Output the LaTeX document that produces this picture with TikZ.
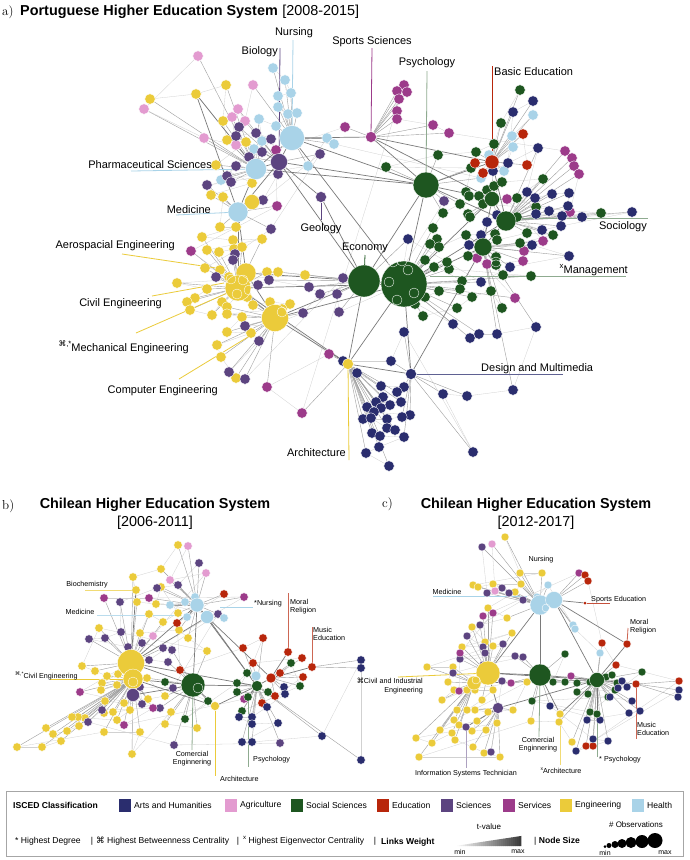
\documentclass[tikz,border=0pt]{standalone}
\usepackage{fontspec}
\setmainfont{Liberation Sans}
\newfontfamily\serifA{Latin Modern Roman}
\newfontfamily\symf{DejaVu Sans}
\pgfdeclarelayer{bgl}
\pgfdeclarelayer{edges}
\pgfdeclarelayer{front}
\pgfsetlayers{bgl,edges,main,front}
\definecolor{cArt}{HTML}{2A2D6E}
\definecolor{cAgr}{HTML}{E39BD0}
\definecolor{cSoc}{HTML}{1E5620}
\definecolor{cEdu}{HTML}{B8260B}
\definecolor{cSci}{HTML}{5C4480}
\definecolor{cSer}{HTML}{9C3B8A}
\definecolor{cEng}{HTML}{EBCB3A}
\definecolor{cHea}{HTML}{A9D3E8}
\colorlet{lSoc}{cSoc!50}
\tikzset{
 nd/.style={circle,inner sep=0pt,minimum size=#1,draw=white,line width=0.35pt},
 fArt/.style={fill=cArt}, fAgr/.style={fill=cAgr}, fSoc/.style={fill=cSoc},
 fEdu/.style={fill=cEdu}, fSci/.style={fill=cSci}, fSer/.style={fill=cSer},
 fEng/.style={fill=cEng}, fHea/.style={fill=cHea},
 hedge/.style={draw=black!38,line width=0.4pt},
 ledge/.style={draw=black!18,line width=0.3pt},
 xedge/.style={draw=black!52,line width=0.7pt},
 lab/.style={line width=0.8pt},
 lbl/.style={font=\fontsize{11}{12}\selectfont,inner sep=0pt},
 sl/.style={font=\fontsize{7.2}{8.2}\selectfont,inner sep=0pt},
 lg/.style={font=\fontsize{8.6}{10}\selectfont,inner sep=0pt},
 lgs/.style={font=\fontsize{7}{8}\selectfont,inner sep=0pt},
 sw/.style={rectangle,inner sep=0pt,minimum width=12,minimum height=13},
}
\newcommand\mkcl[4]{%
 \foreach \x/\y/\h [count=\i] in #4 {\node[nd=#3,#2] (#1\i) at (\x,\y) {};}}
\newcommand\mked[2]{%
 \foreach \x/\y/\h [count=\i] in #2 {%
   \draw[hedge] (#1\i) -- (\h);
   \ifnum\i>1 \pgfmathtruncatemacro\j{\i-1}\draw[ledge] (#1\i) -- (#1\j);\fi}}
\newcommand\supx[1]{\raisebox{0.45em}{\scalebox{0.7}{#1}}}
% ---- node lists
\def\LaH{273/68/aNur,285/80/aNur,291/93/aNur,278/96/aNur,278/107/aNur,288/114/aNur,297/113/aNur,276/126/aNur,259/119/aPha,262/141/aPha,254/149/aPha,221/180/aPha,308/166/aNur,327/138/aNur,334/144/aNur,481/178/aPsy,489/155/aBas,504/171/aBas,513/147/aBas,512/136/aBas,533/115/aBas}
\def\LaA{198/56/aPha,144/109/aPha,204/138/aPha,236/145/aPha,232/117/aPha,238/109/aBio,245/121/aBio,253/85/aNur}
\def\LaY{150/99/aPha,196/94/aPha,226/85/aPha,223/121/aPha,227/140/aPha,246/142/aBio,216/165/aPha,252/183/aPha,211/195/aMed,223/197/aMed,220/227/aMed,236/227/aMed,202/237/aCiv,233/240/aCiv,262/239/aCiv,207/250/aCiv,219/252/aCiv,234/249/aCiv,242/247/aCiv,205/268/aCiv,220/270/aCiv,229/277/aCiv,267/272/aCiv,278/272/aEco,305/275/aEco,177/283/aCiv,207/289/aCiv,195/298/aCiv,187/302/aCiv,190/310/aCiv,212/315/aCiv,222/302/aCiv,227/307/aMec,237/295/aCiv,247/297/aMec,253/305/aMec,270/302/aMec,290/304/aMec,282/309/aMec,227/314/aMec,242/317/aMec,227/332/aMec,251/333/aMec,217/345/aMec,221/357/aMec,236/378/aMec}
\def\LaP{239/127/aBio,236/136/aBio,256/133/aBio,271/139/aBio,262/152/aBio,249/157/aBio,236/166/aPha,227/176/aPha,231/182/aPha,207/185/aMed,278/174/aBio,263/200/aMed,320/154/aBio,271/229/aMed,235/254/aCiv,233/260/aCiv,216/277/aCiv,258/285/aCiv,269/280/aEco,309/287/aEco,320/294/aEco,303/313/aMec,272/325/aMec,245/326/aMec,259/341/aMec,229/372/aMec,245/379/aMec,343/278/aEco,337/294/aEco,339/312/aEco,389/290/aMan,444/201/aPsy}
\def\LaM{345/127/aSpo,276/150/aBio,277/206/aMed,191/251/aCiv,329/354/aArc,267/387/aMec,302/413/aArc,404/85/aSpo,397/91/aSpo,407/92/aSpo,399/99/aSpo,397/111/aSpo,397/119/aSpo,433/125/aSpo,449/133/aSpo,565/151/aSoc,572/158/aSoc,574/166/aSoc,579/174/aSoc,570/212/aSoc,507/199/aG3,543/241/aG2,524/251/aG2,523/261/aG2,487/264/aG2,477/258/aG2,515/298/aMan}
\def\LaS{520/90/aBas,501/123/aBas,494/144/aBas,476/152/aBas,438/155/aPsy,386/167/aPsy,471/168/aPsy,466/192/aG3,469/196/aG3,479/196/aG3,487/190/aG3,494/186/aG3,502/182/aG3,543/179/aSoc,517/198/aSoc,536/207/aSoc,517/217/aSoc,601/213/aSoc,483/204/aG3,468/214/aG3,470/217/aG3,460/204/aPsy,443/213/aPsy,433/228/aMan,437/239/aMan,430/244/aMan,439/247/aMan,466/235/aG2,495/234/aG2,497/240/aG2,527/233/aSoc,553/235/aSoc,520/243/aG2,468/256/aG2,496/257/aG2,496/265/aG2,503/275/aG2,531/276/aMan,449/269/aMan,447/262/aMan,434/267/aMan,425/260/aMan,462/281/aMan,460/289/aMan,439/291/aMan,425/297/aMan,415/304/aMan,423/316/aMan,457/308/aMan,472/297/aMan,491/291/aG2,502/308/aG2}
\def\LaR{475/163/aBas,483/173/aBas,523/134/aBas,527/165/aBas}
\def\LaN{533/101/aBas,513/112/aBas,508/163/aBas,493/171/aG3,538/148/aSoc,527/192/aSoc,535/198/aSoc,552/194/aSoc,569/193/aSoc,568/206/aSoc,549/211/aSoc,536/214/aSoc,562/216/aSoc,582/217/aSoc,632/212/aSoc,561/226/aSoc,542/230/aSoc,497/215/aG3,487/222/aG2,481/235/aG2,469/245/aG2,532/245/aG2,569/256/aG2,510/267/aG2,481/282/aMan,408/239/aEco,399/294/aMan,453/324/aMan,470/338/aMan,479/334/aMan,497/334/aG2,536/327/aG2,513/390/aG2,467/396/aDes,443/394/aDes,473/452/aDes,404/332/aDes,391/361/aDes,343/361/aArc,357/373/aArc,381/386/aArc,404/387/aDes,397/392/aArc,383/397/aArc,376/402/aArc,401/402/aArc,390/405/aArc,367/407/aArc,381/408/aArc,374/412/aArc,410/415/aDes,402/417/aDes,387/419/aArc,363/419/aArc,371/418/aArc,387/428/aArc,395/430/aArc,372/433/aArc,380/436/aArc,404/437/aDes,379/447/aArc,366/453/aArc,389/466/aArc}
\def\LbY{178/545/bNur,161/569/bNur,133/577/bCiv,137/602/bCiv,156/604/bNur,161/587/bNur,178/613/bNur,163/622/bCiv,149/614/bCiv,140/633/bCiv,179/630/bNur,188/638/bNur,207/651/bCom,99/628/bCiv,82/666/bCiv,95/671/bCiv,107/676/bCiv2,118/674/bCiv2,102/683/bCiv2,117/685/bCiv2,101/690/bCiv2,147/678/bCom,165/696/bCom,148/699/bCiv2,124/703/bCiv2,105/701/bCiv2,104/713/bCiv2,113/712/bCiv2,130/710/bCiv2,117/720/bCiv2,85/718/bCiv2,78/717/bCiv2,72/717/bCiv2,79/726/bCiv2,67/731/bCiv2,53/734/bCiv2,46/728/bCiv2,61/741/bCiv2,42/747/bCiv2,17/747/bCiv2,104/732/bCiv2,140/732/bCiv2,132/754/bCiv2,171/712/bCom,165/724/bCom,197/728/bCom}
\def\LbP{199/563/bNur,178/585/bNur,157/588/bNur,120/602/bCiv,121/632/bCiv,105/638/bCiv,89/639/bCiv,128/647/bCiv,142/643/bCiv,163/648/bCiv,172/650/bCom,168/662/bCom,149/660/bCiv,218/614/bNur,173/688/bCom,140/687/bCiv2,142/704/bCiv2,160/708/bCom,102/710/bCiv2,88/722/bCiv2,174/745/bCom,280/743/bGr}
\def\LbM{104/598/bCiv,149/598/bNur,244/597/bNur,80/692/bCiv2,153/708/bCiv2,124/725/bCiv2,244/699/bGr}
\def\LbA{188/546/bNur,170/580/bNur,206/573/bNur,153/636/bCiv}
\def\LbH{195/597/bNur,185/602/bNur,170/605/bNur,224/618/bNur2}
\def\LbR{224/594/bNur,177/623/bNur,180/670/bCom,243/648/bGr,263/638/bGr,253/663/bGr,302/658/bRd,280/673/bRd,303/677/bRd,275/696/bRd,262/703/bGr}
\def\LbS{165/682/bCom,208/701/bCom,185/719/bCom,237/683/bGr,247/673/bGr,237/692/bGr,268/692/bGr,291/663/bRd,300/686/bRd,242/711/bGr}
\def\LbN{284/687/bRd,285/694/bRd,267/707/bGr,252/717/bGr,239/717/bGr,252/724/bGr,278/723/bGr,242/742/bGr,252/742/bGr,322/736/bGr,361/660/bMus,361/668/bMus,361/760/bGr}
\def\LcY{505/537/cNur,520/573/cNur,542/573/cNur,473/585/cNur,478/587/cNur,493/584/cNur,521/584/cNur,515/592/cNur,488/608/cCiv,507/618/cNur,472/627/cCiv,485/642/cCiv,512/633/cCiv,462/647/cCiv,493/646/cCiv,427/667/cCiv2,453/667/cCiv2,448/682/cCiv2,454/690/cCiv2,442/700/cCiv2,467/690/cCiv2,475/690/cCiv2,493/690/cCiv,482/700/cCiv,467/710/cSciH,457/710/cCiv2,475/710/cSciH,488/712/cSciH,513/710/cSciH,527/682/cCom,454/720/cCiv2,440/730/cCiv2,459/725/cCiv2,477/721/cSciH,472/731/cSciH,486/730/cSciH,497/723/cSciH,416/738/cCiv2,432/743/cCiv2,452/733/cCiv2,455/740/cCiv2,473/747/cSciH,484/753/cSciH,500/757/cSciH,419/757/cCiv2,531/721/cCom,559/722/cGr,572/742/cGr}
\def\LcP{482/547/cNur,487/593/cNur,502/588/cNur,509/593/cNur,523/600/cNur,480/625/cCiv,467/636/cCiv,483/647/cCiv,503/644/cCiv,485/653/cCiv,460/659/cCiv,515/656/cCom,523/657/cCom,483/665/cCiv,453/673/cCiv2,502/681/cCiv,491/752/cSciH}
\def\LcA{492/544/cNur,495/591/cNur}
\def\LcM{579/573/cNur2,483/616/cCiv,493/613/cCiv,460/653/cCiv,459/691/cCiv2,511/683/cCom,571/676/cGr}
\def\LcH{537/597/cNur,548/585/cNur,573/625/cNur2,575/629/cNur2,600/653/cGr}
\def\LcR{585/575/cNur2,588/581/cNur2,602/643/cGr,616/665/cGr,679/681/cMus,586/746/cGr,593/746/cGr}
\def\LcS{565/654/cCom,553/682/cCom,565/682/cCom,577/683/cGr,590/682/cGr,606/677/cGr,612/675/cGr,617/683/cGr,615/690/cGr,577/692/cGr,588/694/cGr,608/697/cGr,532/701/cCom,590/712/cGr,642/672/cGr}
\def\LcN{622/681/cGr,627/687/cGr,618/688/cGr,610/697/cGr,632/701/cGr,640/711/cGr,629/713/cGr,587/720/cGr,600/720/cGr,550/706/cCom,593/739/cGr,608/741/cGr,576/751/cGr,679/690/cMus,678/697/cMus}
\begin{document}
\begin{tikzpicture}[x=1pt,y=-1pt]
\useasboundingbox (0,0) rectangle (689,860);
\begin{pgfonlayer}{bgl}
\fill[white] (0,0) rectangle (689,860);
\end{pgfonlayer}

% ---------- titles
\node[anchor=west,inner sep=0pt,font=\serifA\fontsize{13}{14}\selectfont] (ta0) at (2,12) {a)};
\node[anchor=west,inner sep=0pt,font=\bfseries\fontsize{14.4}{15}\selectfont] (ta1) at (20,12) {Portuguese Higher Education System};
\node[anchor=west,inner sep=0pt,font=\fontsize{14.4}{15}\selectfont] (ta2) at ([xshift=4pt]ta1.east) {[2008-2015]};
\node[anchor=west,inner sep=0pt,font=\serifA\fontsize{13}{14}\selectfont] (tb0) at (2,506) {b)};
\node[inner sep=0pt,font=\bfseries\fontsize{14.4}{15}\selectfont] (tb1) at (155,505) {Chilean Higher Education System};
\node[inner sep=0pt,font=\fontsize{14.4}{15}\selectfont] (tb2) at (155,523) {[2006-2011]};
\node[anchor=west,inner sep=0pt,font=\serifA\fontsize{13}{14}\selectfont] (tc0) at (382,504) {c)};
\node[inner sep=0pt,font=\bfseries\fontsize{14.4}{15}\selectfont] (tc1) at (536,505) {Chilean Higher Education System};
\node[inner sep=0pt,font=\fontsize{14.4}{15}\selectfont] (tc2) at (536,523) {[2012-2017]};

% ---------- hubs
\begin{pgfonlayer}{front}
\node[nd=25,fHea] (aNur) at (292,138) {};
\node[nd=21,fHea] (aPha) at (256,169) {};
\node[nd=15,fEng] (aY2) at (252,202) {};
\node[nd=20,fHea] (aMed) at (238,212) {};
\node[nd=17,fSci] (aBio) at (279,162) {};
\node[nd=11,fSer] (aSpo) at (371,137) {};
\node[nd=26,fSoc] (aPsy) at (426,185) {};
\node[nd=14,fEdu] (aBas) at (492,162) {};
\node[nd=11,fSci] (aGeo) at (321,197) {};
\node[nd=32,fSoc] (aEco) at (364,281) {};
\node[nd=46,fSoc] (aMan) at (404,284) {};
\node[nd=20,fSoc] (aSoc) at (506,221) {};
\node[nd=18,fSoc] (aG2) at (483,247) {};
\node[nd=15,fSoc] (aG3) at (492,199) {};
\node[nd=20,fEng] (aCiv2) at (246,273) {};
\node[nd=26,fEng] (aCiv) at (238,288) {};
\node[nd=27,fEng] (aMec) at (275,318) {};
\node[nd=11,fArt] (aDes) at (411,374) {};
\node[nd=11,fEng] (aArc) at (348,364) {};
\foreach \p/\q in {393/262,402/261,408/270,389/282,414/293,397/300,496/262} \draw[white,line width=0.35pt] (\p,\q) circle[radius=5];
\foreach \p/\q in {231/279,243/280,237/294,249/290,282/312} \draw[white,line width=0.35pt] (\p,\q) circle[radius=5];
\node[nd=27,fEng] (bCiv) at (131,663) {};
\node[nd=20,fEng] (bCiv2) at (133,679) {};
\node[nd=13,fSci] (bSciH) at (133,695) {};
\node[nd=24,fSoc] (bCom) at (193,685) {};
\node[nd=14,fHea] (bNur) at (197,605) {};
\node[nd=13,fHea] (bNur2) at (207,617) {};
\node[nd=11,fSoc] (bGr) at (257,686) {};
\node[nd=10,fHea] (bLB) at (256,676) {};
\node[nd=10,fEdu] (bRd) at (271,678) {};
\node[nd=8.5,fEdu] (bMor) at (288,652) {};
\node[nd=8.5,fEdu] (bMus) at (312,667) {};
\node[nd=9,fEng] (bArc) at (215,706) {};
\node[nd=8.5,fEng] (bBio) at (136,590) {};
\node[nd=8.5,fHea] (bMed) at (187,617) {};
\node[nd=8.5,fSoc] (bPsy) at (248,697) {};
\draw[white,line width=0.35pt] (133,682) circle[radius=5];
\draw[white,line width=0.35pt] (198,688) circle[radius=5];
\node[nd=20,fHea] (cNur) at (540,605) {};
\node[nd=17,fHea] (cNur2) at (554,600) {};
\node[nd=22,fSoc] (cCom) at (540,675) {};
\node[nd=15,fSoc] (cGr) at (597,680) {};
\node[nd=24,fEng] (cCiv) at (488,673) {};
\node[nd=14,fEng] (cCiv2) at (474,683) {};
\node[nd=11,fSci] (cSciH) at (498,708) {};
\node[nd=3,fEdu,draw=none] (cSpo) at (585,603) {};
\node[nd=8,fEdu] (cMus) at (636,684) {};
\node[nd=8,fEdu] (cMor) at (627,644) {};
\node[nd=8,fEng] (cArc) at (560,714) {};
\node[nd=8,fSoc] (cPsy) at (597,714) {};
\node[nd=8,fSci] (cIST) at (466,727) {};
\draw[white,line width=0.35pt] (476,680) circle[radius=4];
\draw[white,line width=0.35pt] (546,608) circle[radius=4];
\end{pgfonlayer}

% ---------- cluster nodes
\mkcl{aH}{fHea}{10.5}{\LaH}
\mkcl{aA}{fAgr}{10.5}{\LaA}
\mkcl{aY}{fEng}{10.5}{\LaY}
\mkcl{aP}{fSci}{10.5}{\LaP}
\mkcl{aM}{fSer}{10.5}{\LaM}
\mkcl{aS}{fSoc}{10.5}{\LaS}
\mkcl{aR}{fEdu}{10.5}{\LaR}
\mkcl{aN}{fArt}{10.5}{\LaN}
\mkcl{bY}{fEng}{8.5}{\LbY}
\mkcl{bP}{fSci}{8.5}{\LbP}
\mkcl{bM}{fSer}{8.5}{\LbM}
\mkcl{bA}{fAgr}{8.5}{\LbA}
\mkcl{bH}{fHea}{8.5}{\LbH}
\mkcl{bR}{fEdu}{8.5}{\LbR}
\mkcl{bS}{fSoc}{8.5}{\LbS}
\mkcl{bN}{fArt}{8.5}{\LbN}
\mkcl{cY}{fEng}{8}{\LcY}
\mkcl{cP}{fSci}{8}{\LcP}
\mkcl{cA}{fAgr}{8}{\LcA}
\mkcl{cM}{fSer}{8}{\LcM}
\mkcl{cH}{fHea}{8}{\LcH}
\mkcl{cR}{fEdu}{8}{\LcR}
\mkcl{cS}{fSoc}{8}{\LcS}
\mkcl{cN}{fArt}{8}{\LcN}

% ---------- all edges and label lines in one layer block
\begin{pgfonlayer}{edges}
\mked{aH}{\LaH}\mked{aA}{\LaA}\mked{aY}{\LaY}\mked{aP}{\LaP}
\mked{aM}{\LaM}\mked{aS}{\LaS}\mked{aR}{\LaR}\mked{aN}{\LaN}
\mked{bY}{\LbY}\mked{bP}{\LbP}\mked{bM}{\LbM}\mked{bA}{\LbA}
\mked{bH}{\LbH}\mked{bR}{\LbR}\mked{bS}{\LbS}\mked{bN}{\LbN}
\mked{cY}{\LcY}\mked{cP}{\LcP}\mked{cA}{\LcA}\mked{cM}{\LcM}
\mked{cH}{\LcH}\mked{cR}{\LcR}\mked{cS}{\LcS}\mked{cN}{\LcN}
\foreach \a/\b in {aNur/aPha,aNur/aBio,aPha/aBio,aPha/aMed,aBio/aMed,aNur/aSpo,aNur/aPsy,aBio/aPsy,aPha/aPsy,aSpo/aPsy,aPsy/aG3,aPsy/aSoc,aPsy/aBas,aPsy/aMan,aEco/aMan,aEco/aCiv2,aEco/aMec,aEco/aPsy,aMan/aG2,aMan/aG3,aMan/aSoc,aMed/aCiv2,aMed/aCiv,aCiv/aMec,aCiv2/aMec,aMan/aArc,aEco/aArc,aArc/aDes,aMan/aDes,aGeo/aBio,aGeo/aEco,aMec/aArc,aCiv/aMan,aSpo/aBas,aBas/aSoc,aG2/aSoc,aG3/aSoc,aG2/aG3,aNur/aMan,aMec/aMan,aArc/aCiv,aDes/aG2,aBio/aEco,aSpo/aG3,aY2/aMed,aY2/aPha,bCiv/bCiv2,bCiv/bCom,bCiv2/bCom,bCiv/bNur,bNur/bNur2,bNur/bCom,bNur2/bGr,bCom/bGr,bGr/bRd,bRd/bMor,bRd/bMus,bCom/bArc,bArc/bGr,bSciH/bCiv2,bSciH/bCom,bCiv/bGr,bNur/bGr,bBio/bCiv,bMed/bNur,bPsy/bGr,bLB/bGr,bCiv2/bArc,bCiv/bNur2,bNur2/bRd,cNur/cNur2,cNur/cCiv,cNur/cCom,cCom/cCiv,cCom/cGr,cNur2/cGr,cGr/cMus,cGr/cMor,cCiv/cCiv2,cCiv/cSciH,cSciH/cGr,cNur2/cSpo,cCiv2/cGr,cArc/cGr,cArc/cCom,cPsy/cGr,cIST/cSciH,cNur2/cMor,cCiv/cGr}
 \draw[xedge] (\a) -- (\b);
% panel a label lines
\coordinate (pNur) at (293,40);
\draw[lab,cHea] (pNur) -- (aNur);
\coordinate (pBio) at (280,48);
\draw[lab,cSci] (pBio) -- (aBio);
\coordinate (pSpo) at (372,48);
\draw[lab,cSer] (pSpo) -- (aSpo);
\coordinate (pPsy) at (427,71);
\draw[lab,lSoc] (pPsy) -- (aPsy);
\coordinate (pBas) at (492,66);
\draw[lab,cEdu] (pBas) -- (aBas);
\coordinate (pPha) at (131,171);
\draw[lab,cHea] (pPha) -- (aPha);
\coordinate (pMed) at (176,215);
\draw[lab,cHea] (pMed) -- (aMed);
\coordinate (pGeo) at (321,220);
\draw[lab,cSci] (pGeo) -- (aGeo);
\coordinate (pAer1) at (122,254); \coordinate (pAer2) at (216,268);
\draw[lab,cEng] (pAer1) -- (pAer2);
\coordinate (pCiv1) at (152,296); \coordinate (pCiv2) at (224,283);
\draw[lab,cEng] (pCiv1) -- (pCiv2);
\coordinate (pMec1) at (136,333); \coordinate (pMec2) at (232,291);
\draw[lab,cEng] (pMec1) -- (pMec2);
\coordinate (pCom1) at (179,379); \coordinate (pCom2) at (248,337);
\draw[lab,cEng] (pCom1) -- (pCom2);
\coordinate (pEco) at (365,255);
\draw[lab,cSoc] (pEco) -- (aEco);
\coordinate (pMan1) at (430,276); \coordinate (pMan2) at (626,276);
\draw[lab,lSoc] (pMan1) -- (pMan2);
\coordinate (pSoc1) at (518,218); \coordinate (pSoc2) at (648,218);
\draw[lab,lSoc] (pSoc1) -- (pSoc2);
\coordinate (pDes) at (563,374);
\draw[lab,cArt!75] (aDes) -- (pDes);
\coordinate (pArc) at (349,460);
\draw[lab,cEng] (aArc) -- (pArc);
% panel b
\coordinate (qBio) at (85,590);
\draw[lab,cEng!70] (qBio) -- (bBio);
\coordinate (qMed1) at (97,615); \coordinate (qMed2) at (182,615);
\draw[lab,cHea!80] (qMed1) -- (qMed2);
\coordinate (qN1) at (220,607); \coordinate (qN2) at (253,607);
\draw[lab,cHea] (qN1) -- (qN2);
\coordinate (qMor) at (288,593);
\draw[lab,cEdu!70] (qMor) -- (bMor);
\coordinate (qMus) at (312,627);
\draw[lab,cEdu!70] (qMus) -- (bMus);
\coordinate (qC1) at (50,679);
\draw[lab,cEng] (qC1) -- (bCiv2);
\coordinate (qCom) at (192,750);
\draw[lab,lSoc] (bCom) -- (qCom);
\coordinate (qArc) at (215,776);
\draw[lab,cEng] (bArc) -- (qArc);
\coordinate (qPsy) at (248,767);
\draw[lab,lSoc] (bPsy) -- (qPsy);
% panel c
\coordinate (rMed1) at (433,596); \coordinate (rMed2) at (527,596);
\draw[lab,cHea] (rMed1) -- (rMed2);
\coordinate (rSpo) at (610,603);
\draw[lab,cEdu!80] (cSpo) -- (rSpo);
\coordinate (rMor) at (628,628);
\draw[lab,cEdu!70] (rMor) -- (cMor);
\coordinate (rMus) at (636,739);
\draw[lab,cEdu!70] (cMus) -- (rMus);
\coordinate (rC1) at (398,677);
\draw[lab,cEng] (rC1) -- (cCiv);
\coordinate (rCom) at (539,737);
\draw[lab,lSoc] (cCom) -- (rCom);
\coordinate (rIST) at (466,768);
\draw[lab,cSci!50] (cIST) -- (rIST);
\coordinate (rArc) at (560,765);
\draw[lab,cEng!70] (cArc) -- (rArc);
\coordinate (rPsy) at (597,757);
\draw[lab,lSoc] (cPsy) -- (rPsy);
\end{pgfonlayer}

% ---------- labels panel a
\node[lbl] (tNur) at (294,33) {Nursing};
\node[lbl,anchor=east] (tBio) at (278,52) {Biology};
\node[lbl] (tSpo) at (372,42) {Sports Sciences};
\node[lbl] (tPsy) at (427,63) {Psychology};
\node[lbl,anchor=west] (tBas) at (494,72) {Basic Education};
\node[lbl,anchor=east] (tPha) at (212,165) {Pharmaceutical Sciences};
\node[lbl,anchor=east] (tMed) at (211,210) {Medicine};
\node[lbl] (tGeo) at (321,229) {Geology};
\node[lbl,anchor=east] (tAer) at (175,246) {Aerospacial Engineering};
\node[lbl,anchor=east] (tCiv) at (162,304) {Civil Engineering};
\node[lbl,anchor=east] (tMec) at (189,347) {\supx{{\symf ⌘},*}Mechanical Engineering};
\node[lbl,anchor=east] (tCom) at (218,391) {Computer Engineering};
\node[lbl] (tEco) at (365,248) {Economy};
\node[lbl,anchor=east] (tMan) at (628,270) {\supx{x}Management};
\node[lbl,anchor=east] (tSoc) at (647,227) {Sociology};
\node[lbl,anchor=west] (tDes) at (481,369) {Design and Multimedia};
\node[lbl,anchor=east] (tArc) at (346,453) {Architecture};
% panel b
\node[sl] (tbBio) at (87,585) {Biochemistry};
\node[sl] (tbMed) at (80,612) {Medicine};
\node[sl,anchor=west] (tbNur) at (254,604) {*Nursing};
\node[sl,anchor=west,align=left] (tbMor) at (290,607) {Moral\\Religion};
\node[sl,anchor=west,align=left] (tbMus) at (313,634) {Music\\Education};
\node[sl,anchor=west] (tbCiv) at (15,676) {\supx{{\symf ⌘},*}Civil Engineering};
\node[sl,align=center] (tbCom) at (192,759) {Comercial\\Enginnering};
\node[sl,anchor=west] (tbArc) at (220,779) {Architecture};
\node[sl,anchor=west] (tbPsy) at (253,760) {Psychology};
% panel c
\node[sl] (tcNur) at (541,560) {Nursing};
\node[sl] (tcMed) at (447,592) {Medicine};
\node[sl,anchor=west] (tcSpo) at (591,600) {Sports Education};
\node[sl,anchor=west,align=left] (tcMor) at (630,627) {Moral\\Religion};
\node[sl,anchor=west,align=left] (tcMus) at (637,729) {Music\\Education};
\node[sl,anchor=east,align=right] (tcCiv) at (423,686) {{\symf ⌘}Civil and Industrial\\Engineering};
\node[sl,align=center] (tcCom) at (538,745) {Comercial\\Enginnering};
\node[sl] (tcIST) at (466,774) {Information Systems Technician};
\node[sl] (tcArc) at (561,771) {\supx{x}Architecture};
\node[sl,anchor=west] (tcPsy) at (599,760) {* Psychology};

% ---------- legend
\draw[black!35,line width=0.8pt] (6,791) rectangle (683,856);
\node[lg,anchor=west,font=\bfseries\fontsize{8.6}{10}\selectfont] (lgT) at (13,805) {ISCED Classification};
\foreach \c/\x/\t [count=\k] in {cArt/119/Arts and Humanities,cAgr/225/Agriculture,cSoc/291/Social Sciences,cEdu/377/Education,cSci/441/Sciences,cSer/503/Services,cEng/560/Engineering,cHea/632/Health}{
 \node[sw,fill=\c] (sw\k) at (\x+6,805) {};
 \node[lg,anchor=west] (st\k) at (\x+15,805) {\t};
}
\node[lg,anchor=west] (l1) at (15,841) {* Highest Degree};
\node[lg] (l1s) at (92,841) {|};
\node[lg,anchor=west] (l2) at (96,841) {{\symf ⌘} Highest Betweenness Centrality};
\node[lg] (l2s) at (238,841) {|};
\node[lg,anchor=west] (l3) at (243,841) {\supx{x} Highest Eigenvector Centrality};
\node[lg] (l3s) at (375,841) {|};
\node[lg,anchor=west,font=\bfseries\fontsize{8.6}{10}\selectfont] (l4) at (381,842) {Links Weight};
\foreach \k in {0,...,32}{
 \pgfmathsetmacro\xa{455+2*\k}
 \pgfmathsetmacro\xb{\xa+2.3}
 \pgfmathsetmacro\ya{846-10*(\xa-455)/66}
 \pgfmathsetmacro\yb{846-10*(\xb-455)/66}
 \pgfmathsetmacro\g{\k*2.4}
 \fill[black!\g] (\xa,846) -- (\xa,\ya) -- (\xb,\yb) -- (\xb,846) -- cycle;
}
\node[lgs] (lmin1) at (460,852) {min};
\node[lgs] (lmax1) at (518,852) {max};
\node[lgs,font=\fontsize{8}{9}\selectfont] (ltv) at (489,827) {t-value};
\node[lg,anchor=west] (l5) at (534,841) {| \textbf{Node Size}};
\foreach \p/\s [count=\k] in {605/3,609/5,615/7,622/9,631/11,642/13,655/15}
 \node[circle,fill=black,inner sep=0pt,minimum size=\s] (lc\k) at (\p,848-\s/2) {};
\node[lgs,font=\fontsize{8}{9}\selectfont] (lobs) at (636,825) {\# Observations};
\node[lgs] (lmin2) at (605,853) {min};
\node[lgs] (lmax2) at (665,853) {max};
\end{tikzpicture}
\end{document}
